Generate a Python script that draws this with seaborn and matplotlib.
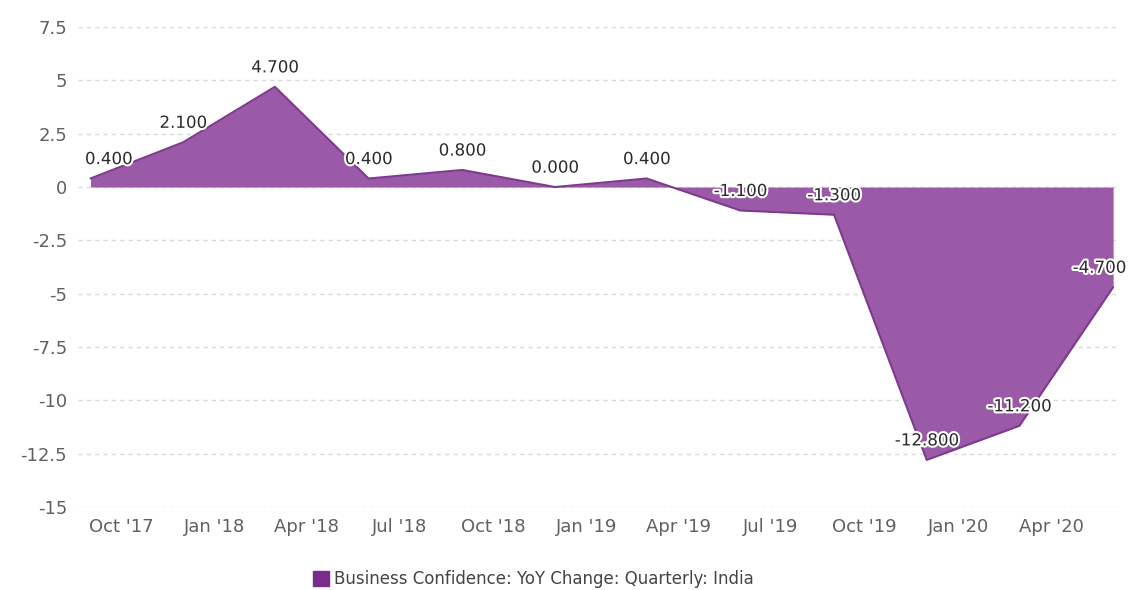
import pandas as pd
import matplotlib
matplotlib.use("Agg")
import matplotlib.pyplot as plt
import matplotlib.patheffects as pe
from matplotlib.patches import Patch
import seaborn as sns

# quarterly observations
dates = ["2017-09-01", "2017-12-01", "2018-03-01", "2018-06-01", "2018-09-01", "2018-12-01",
         "2019-03-01", "2019-06-01", "2019-09-01", "2019-12-01", "2020-03-01", "2020-06-01"]
values = [0.4, 2.1, 4.7, 0.4, 0.8, 0.0, 0.4, -1.1, -1.3, -12.8, -11.2, -4.7]

tick_dates = ["2017-10-01", "2018-01-01", "2018-04-01", "2018-07-01", "2018-10-01", "2019-01-01",
              "2019-04-01", "2019-07-01", "2019-10-01", "2020-01-01", "2020-04-01"]
tick_labels = ["Oct '17", "Jan '18", "Apr '18", "Jul '18", "Oct '18", "Jan '19",
               "Apr '19", "Jul '19", "Oct '19", "Jan '20", "Apr '20"]
y_ticks = [7.5, 5, 2.5, 0, -2.5, -5, -7.5, -10, -12.5, -15]
series_name = "Business Confidence: YoY Change: Quarterly: India"

FILL = "#9b5aa7"
EDGE = "#7e3a8e"
LEGEND = "#7a2b8b"

sns.set_style("white")
plt.rcParams["font.family"] = ["DejaVu Sans"]
plt.rcParams["axes.unicode_minus"] = False

df = pd.DataFrame({"date": pd.to_datetime(dates), "value": values})

fig = plt.figure(figsize=(11.35, 5.9), dpi=100)
ax = fig.add_axes([0.069, 0.141, 0.918, 0.813])

ax.fill_between(df["date"], df["value"], 0, color=FILL, linewidth=0)
sns.lineplot(data=df, x="date", y="value", color=EDGE, linewidth=1.5, ax=ax)

# data labels with white halo, end ones nudged inward
n = len(df)
for i, (d, v) in enumerate(zip(df["date"], df["value"])):
    dx = 0
    if i == 0:
        dx = 13
    elif i == n - 1:
        dx = -10
    ax.annotate(f"{v:.3f}", (d, v), xytext=(dx, 14), textcoords="offset points",
                ha="center", va="center", fontsize=12, color="#2b2b2b",
                path_effects=[pe.withStroke(linewidth=3, foreground="white")])

ax.set_ylim(-15, 7.5)
ax.set_yticks(y_ticks)
ax.set_yticklabels([f"{t:g}" for t in y_ticks])
ax.set_xticks(pd.to_datetime(tick_dates))
ax.set_xticklabels(tick_labels)
ax.set_xlim(pd.Timestamp("2017-08-20"), pd.Timestamp("2020-06-08"))

ax.grid(axis="y", linestyle=(0, (3, 3)), color="#d9d9d9", linewidth=1)
ax.grid(axis="x", visible=False)
ax.set_axisbelow(True)
for s in ax.spines.values():
    s.set_visible(False)
ax.tick_params(axis="both", length=0, labelsize=13, colors="#606060", pad=8)
ax.set_xlabel("")
ax.set_ylabel("")

fig.legend(handles=[Patch(color=LEGEND, label=series_name)], loc="lower center",
           bbox_to_anchor=(0.47, -0.022), frameon=False, fontsize=12, handlelength=1.0,
           handleheight=1.0, handletextpad=0.3, labelcolor="#444444")

fig.savefig("out.png", dpi=100)
